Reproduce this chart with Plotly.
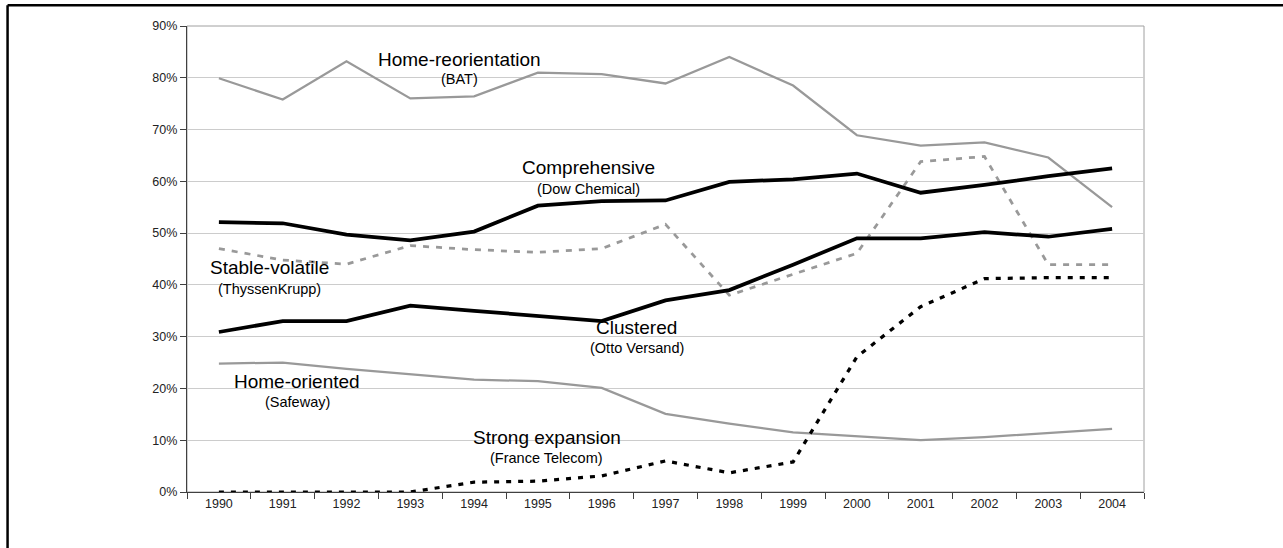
import plotly.graph_objects as go

years = [str(y) for y in range(1990, 2005)]

home_reorientation = [79.9, 75.8, 83.2, 76.0, 76.4, 81.0, 80.7, 78.9, 84.0, 78.5, 68.9, 66.9, 67.5, 64.6, 55.0]
comprehensive = [52.1, 51.9, 49.7, 48.6, 50.3, 55.3, 56.2, 56.3, 59.9, 60.4, 61.5, 57.8, 59.3, 61.0, 62.5]
stable_volatile = [47.0, 44.8, 44.0, 47.6, 46.8, 46.3, 47.0, 51.7, 38.0, 42.0, 46.1, 63.8, 64.8, 43.9, 43.9]
clustered = [30.9, 33.0, 33.0, 36.0, 35.0, 34.0, 33.0, 37.0, 39.0, 43.9, 49.0, 49.0, 50.2, 49.3, 50.8]
home_oriented = [24.8, 25.0, 23.8, 22.7, 21.7, 21.4, 20.1, 15.1, 13.2, 11.5, 10.8, 10.0, 10.6, 11.4, 12.2]
strong_expansion = [0.0, 0.0, 0.0, 0.0, 1.9, 2.1, 3.1, 6.0, 3.7, 5.8, 26.1, 35.8, 41.2, 41.4, 41.4]

y_ticks = [0, 10, 20, 30, 40, 50, 60, 70, 80, 90]
y_tick_text = ["0%", "10%", "20%", "30%", "40%", "50%", "60%", "70%", "80%", "90%"]

# label: (main, sub, x index, y main, y sub)
labels = [
    ("Home-reorientation", "(BAT)", 3.77, 83.6, 79.7),
    ("Comprehensive", "(Dow Chemical)", 5.80, 62.7, 58.6),
    ("Stable-volatile", "(ThyssenKrupp)", 0.80, 43.3, 39.3),
    ("Clustered", "(Otto Versand)", 6.55, 31.8, 27.8),
    ("Home-oriented", "(Safeway)", 1.23, 21.3, 17.3),
    ("Strong expansion", "(France Telecom)", 5.14, 10.6, 6.6),
]

FONT = "Liberation Sans, Arial, sans-serif"
GRAY = "#999999"

fig = go.Figure()
fig.add_trace(go.Scatter(x=years, y=home_reorientation, mode="lines", name="Home-reorientation",
                         line=dict(color=GRAY, width=2.25)))
fig.add_trace(go.Scatter(x=years, y=home_oriented, mode="lines", name="Home-oriented",
                         line=dict(color=GRAY, width=2.25)))
fig.add_trace(go.Scatter(x=years, y=stable_volatile, mode="lines", name="Stable-volatile",
                         line=dict(color=GRAY, width=2.75, dash="6px,7px")))
fig.add_trace(go.Scatter(x=years, y=comprehensive, mode="lines", name="Comprehensive",
                         line=dict(color="black", width=3.75)))
fig.add_trace(go.Scatter(x=years, y=clustered, mode="lines", name="Clustered",
                         line=dict(color="black", width=3.75)))
fig.add_trace(go.Scatter(x=years, y=strong_expansion, mode="lines", name="Strong expansion",
                         line=dict(color="black", width=3.25, dash="5px,7px")))

for main, sub, xi, ym, ys in labels:
    fig.add_annotation(x=xi, y=ym, xref="x", yref="y", text=main, showarrow=False,
                       font=dict(family=FONT, size=19, color="black"))
    fig.add_annotation(x=xi, y=ys, xref="x", yref="y", text=sub, showarrow=False,
                       font=dict(family=FONT, size=14.5, color="black"))

# plot-area border (gray) and outer page frame (black)
fig.add_shape(type="rect", xref="paper", yref="paper", x0=0, x1=1, y0=0, y1=1,
              line=dict(color="#a0a0a0", width=1), layer="below")
fig.add_shape(type="line", xref="paper", yref="paper", x0=-0.1875, x1=1.25, y0=1.0445, y1=1.0445,
              line=dict(color="black", width=2.5))
fig.add_shape(type="line", xref="paper", yref="paper", x0=-0.1875, x1=-0.1875, y0=1.0445, y1=-0.3,
              line=dict(color="black", width=2.5))

fig.update_layout(
    width=1283, height=548,
    margin=dict(l=187, r=139, t=26, b=56),
    paper_bgcolor="white", plot_bgcolor="white",
    showlegend=False,
    font=dict(family=FONT, size=12.5, color="#222222"),
    xaxis=dict(type="category", tickson="boundaries", ticks="outside", ticklen=6,
               tickcolor="#404040", showline=True, linecolor="#404040", linewidth=1.3,
               showgrid=False, range=[-0.5, 14.5], tickfont=dict(size=12.5, family=FONT, color="#222222")),
    yaxis=dict(range=[0, 90], tickmode="array", tickvals=y_ticks, ticktext=y_tick_text,
               ticks="outside", ticklen=6,
               tickcolor="#404040", showline=True, linecolor="#404040", linewidth=1.3,
               showgrid=True, gridcolor="#cccccc", gridwidth=1, zeroline=False,
               tickfont=dict(size=12.5, family=FONT, color="#222222")),
)

fig.write_html("out.html", config={"displayModeBar": False},
               post_script="document.body.style.margin='0';document.body.style.overflow='hidden';")
